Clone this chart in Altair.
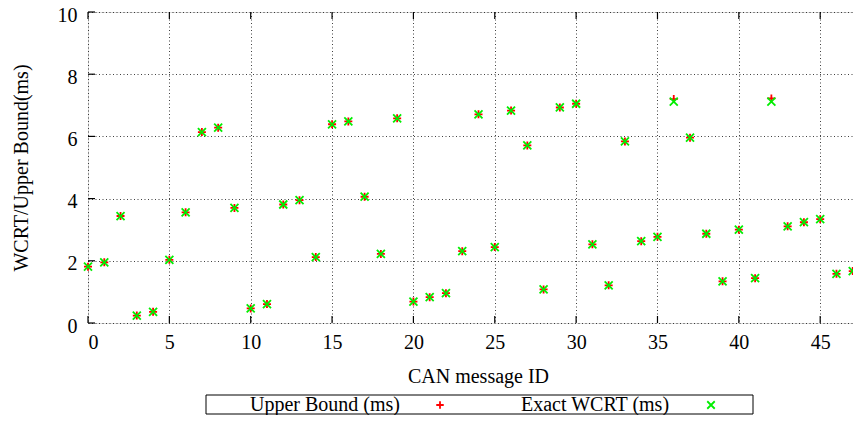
import altair as alt
import pandas as pd

# ---- data ----
msg_ids = list(range(48))
upper_bound = [1.81, 1.95, 3.44, 0.24, 0.36, 2.03, 3.56, 6.14, 6.28, 3.70,
               0.47, 0.61, 3.81, 3.95, 2.12, 6.39, 6.48, 4.06, 2.22, 6.58,
               0.69, 0.83, 0.96, 2.31, 6.71, 2.44, 6.83, 5.71, 1.08, 6.93,
               7.05, 2.53, 1.21, 5.84, 2.63, 2.77, 7.20, 5.96, 2.87, 1.34,
               3.00, 1.44, 7.22, 3.11, 3.24, 3.34, 1.58, 1.67]
exact_wcrt = [1.81, 1.95, 3.44, 0.24, 0.36, 2.03, 3.56, 6.14, 6.28, 3.70,
              0.47, 0.61, 3.81, 3.95, 2.12, 6.39, 6.48, 4.06, 2.22, 6.58,
              0.69, 0.83, 0.96, 2.31, 6.71, 2.44, 6.83, 5.71, 1.08, 6.93,
              7.05, 2.53, 1.21, 5.84, 2.63, 2.77, 7.12, 5.96, 2.87, 1.34,
              3.00, 1.44, 7.12, 3.11, 3.24, 3.34, 1.58, 1.67]
series_names = ["Upper Bound (ms)", "Exact WCRT (ms)"]
series_colors = ["#ff0000", "#00ee00"]
x_ticks = [0, 5, 10, 15, 20, 25, 30, 35, 40, 45]
y_ticks = [0, 2, 4, 6, 8, 10]

FONT = "Liberation Serif"
W, H = 781, 311
XDOM = [0, 48]
YDOM = [0, 10]

rows = []
for name, vals in zip(series_names, [upper_bound, exact_wcrt]):
    for i, v in zip(msg_ids, vals):
        rows.append({"id": i, "value": v, "series": name})
df = pd.DataFrame(rows)

plus_path = "M -1 0 L 1 0 M 0 -1 L 0 1"
cross_path = "M -1 -1 L 1 1 M -1 1 L 1 -1"

xscale = alt.Scale(domain=XDOM, nice=False, zero=False)
yscale = alt.Scale(domain=YDOM, nice=False, zero=False)

points = alt.Chart(df).mark_point(filled=False, strokeWidth=1.8, size=64, opacity=1).encode(
    x=alt.X("id:Q", scale=xscale,
            axis=alt.Axis(values=x_ticks, title="CAN message ID", ticks=False, domain=False,
                          labelPadding=9, labelFontSize=20, labelFont=FONT, labelColor="black",
                          titleFont=FONT, titleFontSize=20, titleFontWeight="normal", titleColor="black",
                          titleX=390, titleY=59, titleBaseline="alphabetic", titleAlign="center",
                          grid=True, gridColor="black", gridDash=[1, 2.5], gridOpacity=0.75, gridWidth=1)),
    y=alt.Y("value:Q", scale=yscale,
            axis=alt.Axis(values=y_ticks, title="WCRT/Upper Bound(ms)", ticks=False, domain=False,
                          labelPadding=11, labelOffset=3, labelFontSize=20, labelFont=FONT, labelColor="black",
                          titleFont=FONT, titleFontSize=20, titleFontWeight="normal", titleColor="black",
                          titleX=-67, titleY=H / 2, titleBaseline="middle", titleAngle=-90, titleAlign="center",
                          grid=True, gridColor="black", gridDash=[1, 2.5], gridOpacity=0.75, gridWidth=1)),
    color=alt.Color("series:N", scale=alt.Scale(domain=series_names, range=series_colors),
                    legend=alt.Legend(orient="none", legendX=162, legendY=383, direction="horizontal",
                                      columns=2, padding=0, title=None,
                                      labelFont=FONT, labelFontSize=20, labelColor="black", labelLimit=0,
                                      labelAlign="left", labelOffset={"expr": "-200"}, symbolOffset=180,
                                      columnPadding=73, symbolSize=56, symbolStrokeWidth=1.8)),
    shape=alt.Shape("series:N", scale=alt.Scale(domain=series_names, range=[plus_path, cross_path])),
)

xt = pd.DataFrame({"t": x_ticks})
yt = pd.DataFrame({"t": y_ticks})
bottom_ticks = alt.Chart(xt).mark_rule(color="black", strokeWidth=1.2).encode(
    x=alt.X("t:Q", scale=xscale), y=alt.value(H), y2=alt.value(H - 7))
top_ticks = alt.Chart(xt).mark_rule(color="black", strokeWidth=1.2).encode(
    x=alt.X("t:Q", scale=xscale), y=alt.value(0), y2=alt.value(7))
left_ticks = alt.Chart(yt).mark_rule(color="black", strokeWidth=1.2).encode(
    y=alt.Y("t:Q", scale=yscale), x=alt.value(0), x2=alt.value(7))

# legend frame (gnuplot-style key box)
legend_box = alt.Chart(pd.DataFrame({"k": [0]})).mark_rect(
    filled=False, stroke="black", strokeWidth=1).encode(
    x=alt.value(118), x2=alt.value(665), y=alt.value(383), y2=alt.value(402))

chart = alt.layer(bottom_ticks, top_ticks, left_ticks, legend_box, points).properties(
    width=W, height=H,
    autosize=alt.AutoSizeParams(type="none"),
    padding={"left": 80, "top": 4, "right": -16, "bottom": 92},
).configure_view(stroke="black", strokeWidth=1.5).configure(background="white")

chart.save("out.html", embed_options={"renderer": "svg", "actions": False})
